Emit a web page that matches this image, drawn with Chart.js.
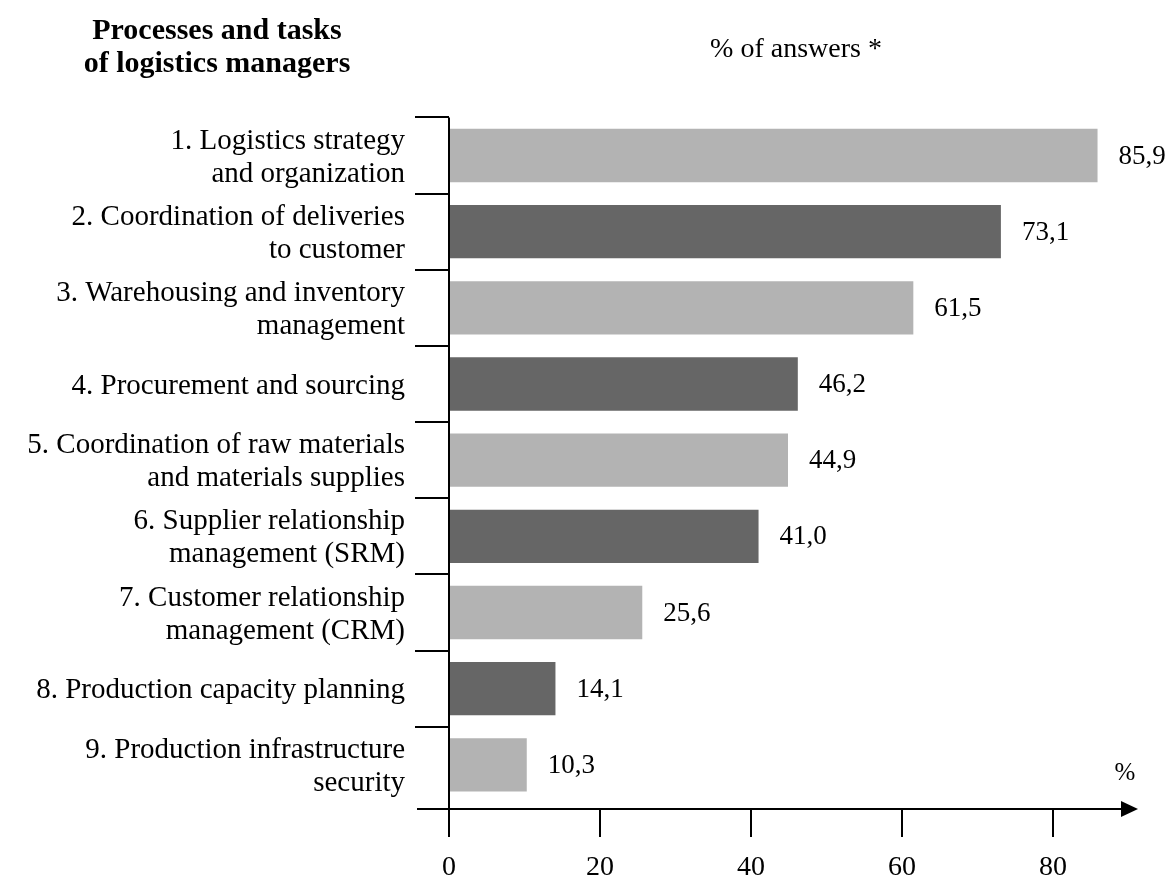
<!DOCTYPE html>
<html>
<head>
<meta charset="utf-8">
<script src="https://cdn.jsdelivr.net/npm/chart.js@4/dist/chart.umd.min.js"></script>
<style>
  html, body { margin: 0; padding: 0; background: #fff; }
  #wrap { width: 1172px; height: 880px; position: relative; }
</style>
</head>
<body>
<div id="wrap"><canvas id="c" width="1172" height="880"></canvas></div>
<script>
// ---- data ----
const categories = [
  ["1. Logistics strategy", "and organization"],
  ["2. Coordination of deliveries", "to customer"],
  ["3. Warehousing and inventory", "management"],
  ["4. Procurement and sourcing"],
  ["5. Coordination of raw materials", "and materials supplies"],
  ["6. Supplier relationship", "management (SRM)"],
  ["7. Customer relationship", "management (CRM)"],
  ["8. Production capacity planning"],
  ["9. Production infrastructure", "security"]
];
const values = [85.9, 73.1, 61.5, 46.2, 44.9, 41.0, 25.6, 14.1, 10.3];
const xTickValues = [0, 20, 40, 60, 80];
const titleLeft = ["Processes and tasks", "of logistics managers"];
const titleRight = "% of answers *";
const axisUnit = "%";

// ---- styles ----
const LIGHT = "#b3b3b3";
const DARK = "#666666";
const FONT = "'Liberation Serif', 'Times New Roman', serif";

const decor = {
  id: "decor",
  afterDatasetsDraw(chart) {
    const ctx = chart.ctx;
    const meta = chart.getDatasetMeta(0);
    ctx.save();
    ctx.fillStyle = "#000";
    ctx.font = "27px " + FONT;
    ctx.textAlign = "left";
    ctx.textBaseline = "middle";
    meta.data.forEach((bar, i) => {
      const txt = values[i].toFixed(1).replace(".", ",");
      ctx.fillText(txt, bar.x + 21, bar.y + 1);
    });
    ctx.restore();
  },
  afterDraw(chart) {
    const ctx = chart.ctx;
    const xs = chart.scales.x, ys = chart.scales.y;
    const area = chart.chartArea;
    const x0 = xs.getPixelForValue(0);
    const axisY = area.bottom + 6;
    const step = ys.getPixelForValue(1) - ys.getPixelForValue(0);
    ctx.save();
    ctx.strokeStyle = "#000";
    ctx.lineWidth = 2;
    // y axis line
    ctx.beginPath();
    ctx.moveTo(x0, area.top);
    ctx.lineTo(x0, axisY + 28);
    ctx.stroke();
    // category separators
    for (let i = 0; i < categories.length; i++) {
      const y = Math.round(ys.getPixelForValue(i) - step / 2);
      ctx.beginPath();
      ctx.moveTo(x0 - 34, y);
      ctx.lineTo(x0, y);
      ctx.stroke();
    }
    // x axis with arrow
    ctx.beginPath();
    ctx.moveTo(x0 - 32, axisY);
    ctx.lineTo(1124, axisY);
    ctx.stroke();
    ctx.fillStyle = "#000";
    ctx.beginPath();
    ctx.moveTo(1138, axisY);
    ctx.lineTo(1121, axisY - 8);
    ctx.lineTo(1121, axisY + 8);
    ctx.closePath();
    ctx.fill();
    // x ticks
    xs.ticks.forEach(t => {
      const x = xs.getPixelForValue(t.value);
      ctx.beginPath();
      ctx.moveTo(x, axisY);
      ctx.lineTo(x, axisY + 28);
      ctx.stroke();
    });
    // unit
    ctx.font = "25px " + FONT;
    ctx.textAlign = "center";
    ctx.textBaseline = "middle";
    ctx.fillText(axisUnit, 1125, 773);
    // titles
    ctx.textBaseline = "alphabetic";
    ctx.font = "bold 30px " + FONT;
    ctx.fillText(titleLeft[0], 217, 39);
    ctx.fillText(titleLeft[1], 217, 72);
    ctx.font = "28px " + FONT;
    ctx.fillText(titleRight, 796, 57);
    ctx.restore();
  }
};

new Chart(document.getElementById("c"), {
  type: "bar",
  data: {
    labels: categories,
    datasets: [{
      data: values,
      backgroundColor: values.map((v, i) => i % 2 === 0 ? LIGHT : DARK),
      borderWidth: 0,
      barPercentage: 0.7,
      categoryPercentage: 1.0
    }]
  },
  options: {
    indexAxis: "y",
    responsive: false,
    animation: false,
    devicePixelRatio: 1,
    layout: { padding: { top: 117.4, right: 43.5, left: 0, bottom: 0 } },
    plugins: { legend: { display: false }, tooltip: { enabled: false }, title: { display: false } },
    scales: {
      y: {
        type: "category",
        grid: { display: false, drawTicks: false, tickLength: 0 },
        border: { display: false },
        ticks: {
          color: "#000",
          font: { family: FONT, size: 29, lineHeight: 1.14 },
          padding: 44,
          labelOffset: 2,
          autoSkip: false
        },
        afterFit(s) { s.width = 449; }
      },
      x: {
        type: "linear",
        min: 0,
        max: 90,
        grid: { display: false, drawTicks: false, tickLength: 0 },
        border: { display: false },
        ticks: {
          stepSize: 20,
          color: "#000",
          font: { family: FONT, size: 28 },
          padding: 48
        },
        afterBuildTicks(s) {
          s.ticks = xTickValues.map(v => ({ value: v }));
        },
        afterFit(s) { s.height = 76.4; }
      }
    }
  },
  plugins: [decor]
});
</script>
</body>
</html>
